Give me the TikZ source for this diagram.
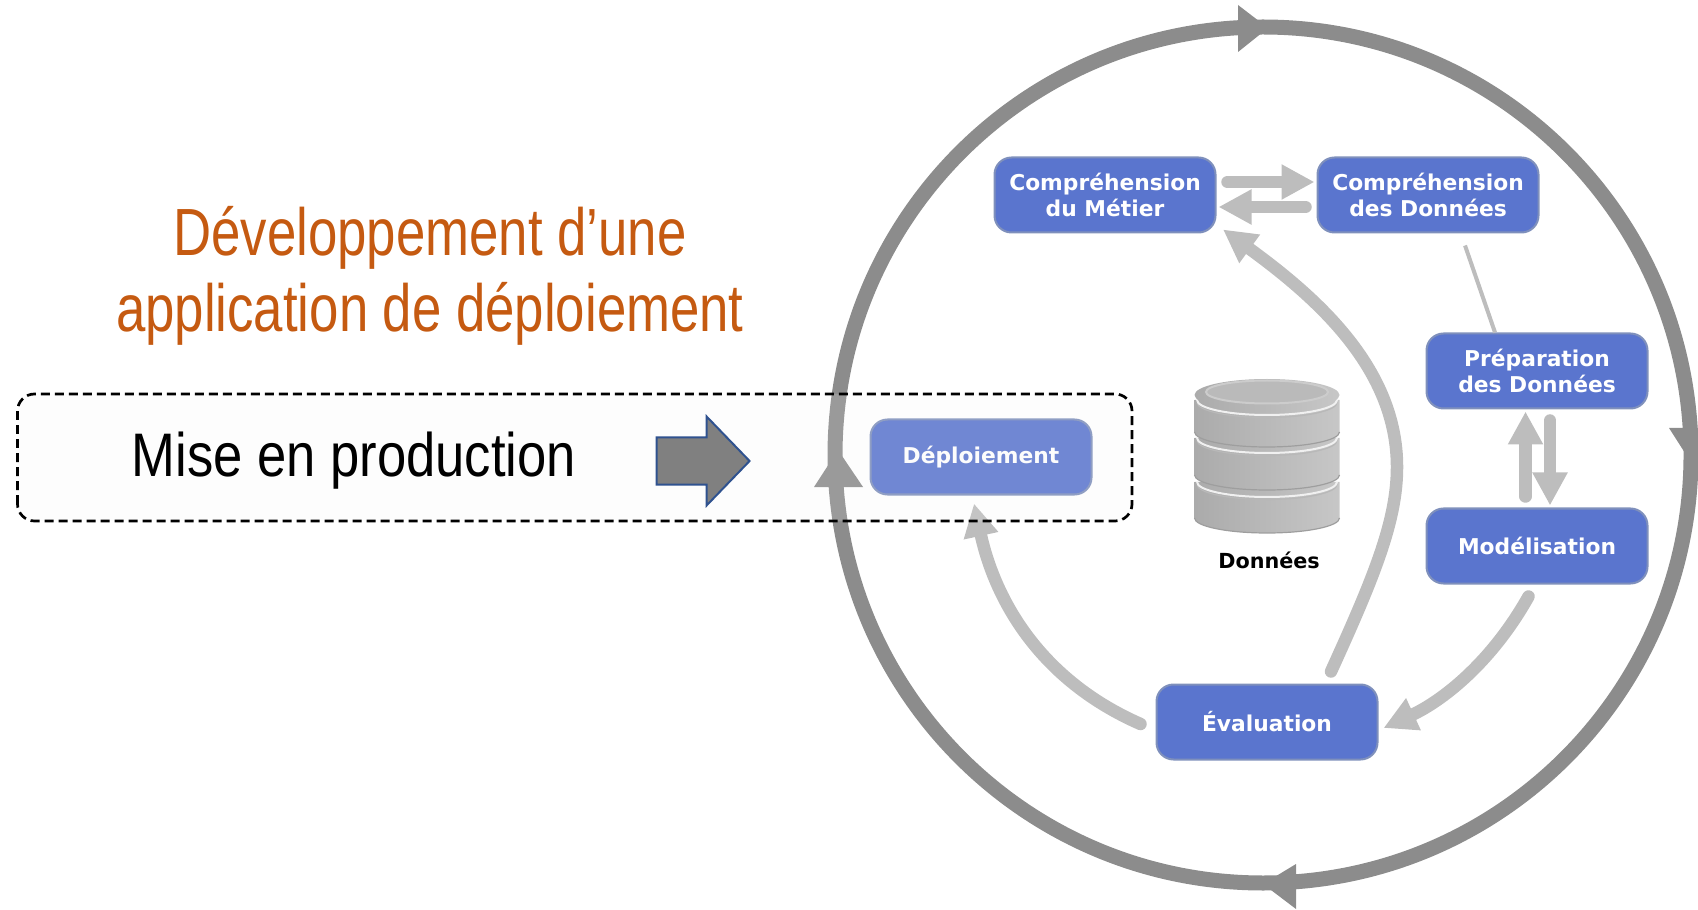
\documentclass[tikz,border=0pt]{standalone}
\usepackage{fontspec}
\setmainfont{Liberation Sans}
\newfontfamily\titlefont[FakeStretch=0.79]{Liberation Sans}
\newfontfamily\prodfont[FakeStretch=0.855]{Liberation Sans}
\newfontfamily\phasefont{DejaVu Sans}
\usetikzlibrary{shapes,arrows,positioning,calc,arrows.meta}

\definecolor{phaseblue}{HTML}{5A75CE}
\definecolor{phaseedge}{HTML}{7F90BC}
\definecolor{ringgrey}{HTML}{8C8C8C}
\definecolor{flowgrey}{HTML}{BDBDBD}
\definecolor{titleorange}{HTML}{C55A11}
\definecolor{arrowblue}{HTML}{2F528F}

\tikzset{
    phase/.style={draw=phaseedge, line width=.02cm, fill=phaseblue, rounded corners=.17cm,
        minimum width=2.21cm, minimum height=.75cm, inner sep=0pt, align=center, text=white,
        font=\phasefont\bfseries\fontsize{6.2}{7.5}\selectfont},
    flow/.style={flowgrey, line width=.125cm, line cap=round, -{Triangle[length=.33cm,width=.33cm]}},
    gapflow/.style={flow, shorten >=.02cm, shorten <=.11cm},
    disc/.style={left color=black!33, middle color=black!9, right color=black!22},
}

\begin{document}
\begin{tikzpicture}
    \useasboundingbox (0,0) rectangle (16.98,9.09);

    % outer cycle
    \draw[ringgrey, line width=.15cm] (12.63,4.54) circle (4.28);
    \fill[ringgrey] (12.38,9.04) -- (12.38,8.57) -- (12.68,8.81) -- cycle;
    \fill[ringgrey] (12.96,.45) -- (12.96,0) -- (12.63,.25) -- cycle;
    \fill[ringgrey] (8.14,4.22) -- (8.63,4.22) -- (8.38,4.59) -- cycle;
    \fill[ringgrey] (16.69,4.81) -- (17.16,4.81) -- (16.92,4.45) -- cycle;

    % phases
    \node[phase] (metier) at (11.05,7.14) {Compréhension\\du Métier};
    \node[phase] (donnees) at (14.28,7.14) {Compréhension\\des Données};
    \node[phase] (prepa) at (15.37,5.38) {Préparation\\des Données};
    \node[phase] (model) at (15.37,3.63) {Modélisation};
    \node[phase] (eval) at (12.67,1.87) {Évaluation};
    \node[phase] (deploy) at (9.81,4.52) {Déploiement};

    % flows between phases
    \draw[gapflow] ([yshift=.13cm]metier.east) -- ([yshift=.13cm]donnees.west);
    \draw[gapflow] ([yshift=-.12cm]donnees.west) -- ([yshift=-.12cm]metier.east);
    \draw[flowgrey, line width=.04cm] ([xshift=.37cm,yshift=-.12cm]donnees.south) -- ([xshift=-.42cm]prepa.north);
    \draw[gapflow] ([xshift=-.115cm]model.north) -- ([xshift=-.115cm]prepa.south);
    \draw[gapflow] ([xshift=.13cm]prepa.south) -- ([xshift=.13cm]model.north);
    \draw[flow] ([xshift=-.085cm,yshift=-.12cm]model.south) .. controls (14.90,2.44) and (14.40,2.07) .. ([xshift=.05cm,yshift=-.06cm]eval.east);
    \draw[flow] ([xshift=.64cm,yshift=.12cm]eval.north) .. controls (13.75,3.34) and (13.97,3.89) .. (13.97,4.42)
        .. controls (13.97,5.39) and (13.20,6.09) .. ([xshift=.065cm,yshift=.04cm]metier.south east);
    \draw[flow] ([xshift=-.15cm,yshift=-.02cm]eval.west) .. controls (10.40,2.29) and (9.95,3.09) .. ([xshift=-.07cm,yshift=-.08cm]deploy.south);

    % data store
    \foreach \ytop/\ybot in {4.27/3.91,4.71/4.34,5.09/4.77}{
        \shade[disc] (11.945,\ytop) -- (11.945,\ybot) arc[start angle=180,end angle=360,x radius=.725,y radius=.15]
            -- (13.395,\ytop) -- cycle;
        \draw[black!38, line width=.012cm] (11.945,\ybot) arc[start angle=180,end angle=360,x radius=.725,y radius=.15];
        \draw[black!28, line width=.012cm] (11.97,\ytop-.025) arc[start angle=180,end angle=360,x radius=.70,y radius=.15];
        \draw[black!6, line width=.02cm] (11.97,\ytop) arc[start angle=180,end angle=360,x radius=.70,y radius=.15];
    }
    \shade[disc] (12.67,5.14) ellipse (.725 and .16);
    \draw[black!20, line width=.02cm, fill=black!27] (12.67,5.17) ellipse (.61 and .115);
    \node[font=\phasefont\bfseries\fontsize{5.9}{7.5}\selectfont] (store) at (12.69,3.49) {Données};

    % production band
    \draw[black, line width=.027cm, dash pattern=on .09cm off .05cm, fill=black!6, fill opacity=.15, rounded corners=.17cm]
        (.175,3.88) rectangle (11.32,5.15);
    \node[font=\prodfont\fontsize{17.5}{21}\selectfont] (prod) at (3.54,4.485) {Mise en production};
    \node[single arrow, draw=arrowblue, fill=black!50, line width=.02cm, minimum height=.93cm, single arrow head extend=.21cm,
        single arrow head indent=0pt, single arrow tip angle=92, inner sep=.225cm, text width=0pt] (goarrow) at (6.917,4.48) {};

    \node[text=titleorange, align=center, font=\titlefont\fontsize{19}{21.6}\selectfont] (title) at (4.30,6.33)
        {Développement d’une\\application de déploiement};
\end{tikzpicture}
\end{document}
